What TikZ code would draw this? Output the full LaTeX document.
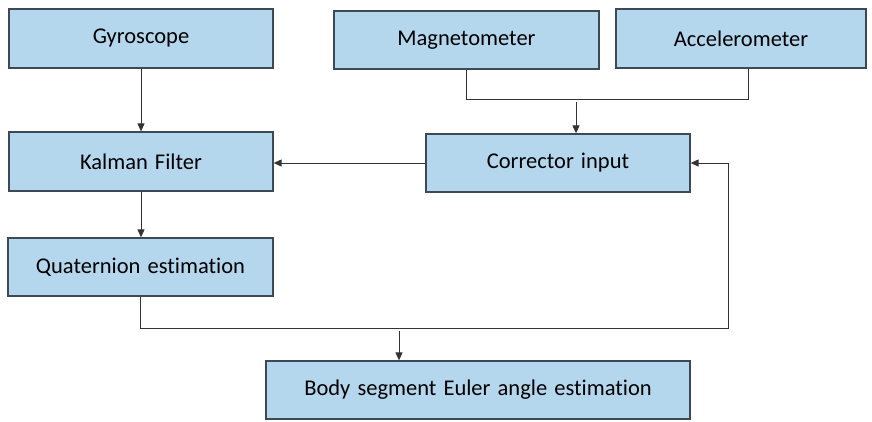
\documentclass[tikz,border=0pt]{standalone}
\usepackage{fontspec}
\setmainfont[WordSpace=1.4,Ligatures=NoCommon]{Carlito}
\usetikzlibrary{arrows.meta}
\definecolor{boxfill}{HTML}{B4D7EE}
\definecolor{boxline}{HTML}{3C4A55}
\definecolor{connline}{HTML}{333333}
\begin{document}
\begin{tikzpicture}[x=1pt,y=-1pt,
  box/.style={draw=boxline, fill=boxfill, line width=1.3pt, inner sep=0pt,
    font=\fontsize{22.5}{27}\selectfont, text=black},
  conn/.style={draw=connline, line width=1pt},
  arr/.style={conn, -{Triangle[length=8pt,width=7pt]}}]
\useasboundingbox (0,0) rectangle (872,421);
\node[box, minimum width=264pt, minimum height=59pt] (gyro) at (141,38.5) {Gyroscope};
\node[box, minimum width=265pt, minimum height=58pt] (mag) at (466.5,40) {Magnetometer};
\node[box, minimum width=250pt, minimum height=59pt] (acc) at (741,38.5) {Accelerometer};
\node[box, minimum width=264pt, minimum height=59pt] (kal) at (141,161.5) {Kalman Filter};
\node[box, minimum width=264pt, minimum height=58pt] (cor) at (558,163) {Corrector input};
\node[box, minimum width=265pt, minimum height=58pt] (quat) at (140.5,267) {Quaternion estimation};
\node[box, minimum width=424pt, minimum height=58pt] (body) at (478,390) {Body segment Euler angle estimation};
\coordinate (hb) at (748,99);
\coordinate (j1) at (576,102);
\coordinate (fb) at (728,328);
\coordinate (j2) at (399,331);
\draw[arr] (gyro.south) -- (kal.north);
\draw[conn] (mag.south) |- (hb) -- (hb |- acc.south);
\draw[arr] (j1) -- (j1 |- cor.north);
\draw[arr] (cor.west) -- (cor.west -| kal.east);
\draw[arr] (kal.south) -- (kal.south |- quat.north);
\draw[arr] (quat.south) |- (fb) |- (cor.east);
\draw[arr] (j2) -- (j2 |- body.north);
\end{tikzpicture}
\end{document}
